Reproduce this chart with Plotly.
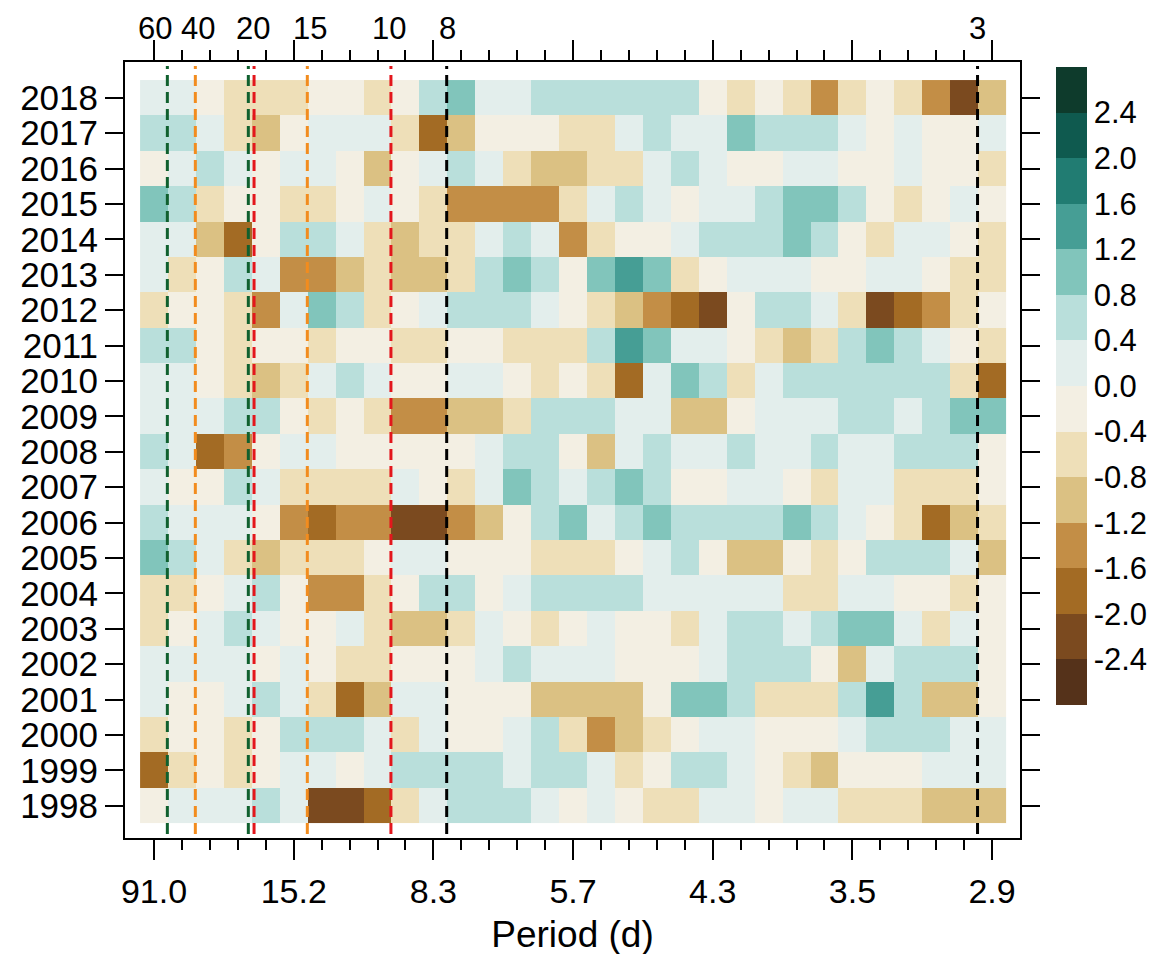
import plotly.graph_objects as go

# ---------------- data ----------------
years = list(range(1998, 2019))
cells = list(range(1, 32))                      # frequency bins (31 columns)
bottom_tick_cells = [1, 6, 11, 16, 21, 26, 31]
bottom_tick_labels = ["91.0", "15.2", "8.3", "5.7", "4.3", "3.5", "2.9"]
top_label_cells = [1.04, 2.58, 4.54, 6.58, 9.41, 11.52, 30.49]
top_labels = ["60", "40", "20", "15", "10", "8", "3"]

v1998 = [-0.2,0.2,0.2,0.2,0.6,0.2,-2.2,-2.2,-1.8,-0.6, 0.2,0.6,0.6,0.6,0.2,-0.2,0.2,-0.2,-0.6,-0.6, 0.2,0.2,-0.2,0.2,0.2,-0.6,-0.6,-0.6,-1.0,-1.0,-1.0]
v1999 = [-1.8,-0.6,-0.2,-0.6,-0.2,0.2,0.2,-0.2,0.2,0.6, 0.6,0.6,0.6,0.2,0.6,0.6,0.2,-0.6,-0.2,0.6, 0.6,0.2,-0.2,-0.6,-1.0,-0.2,-0.2,-0.2,0.2,0.2,0.2]
v2000 = [-0.6,-0.2,-0.2,-0.6,-0.2,0.6,0.6,0.6,0.2,-0.6, 0.2,-0.2,-0.2,0.2,0.6,-0.6,-1.4,-1.0,-0.6,-0.2, 0.2,0.2,-0.2,-0.2,-0.2,0.2,0.6,0.6,0.6,0.2,0.2]
v2001 = [0.2,-0.2,-0.2,0.2,0.6,0.2,-0.6,-1.8,-1.0,0.2, 0.2,-0.2,-0.2,-0.2,-1.0,-1.0,-1.0,-1.0,-0.2,1.0, 1.0,0.6,-0.6,-0.6,-0.6,0.6,1.4,0.6,-1.0,-1.0,-0.2]
v2002 = [0.2,0.2,0.2,0.2,-0.2,0.2,-0.2,-0.6,-0.6,-0.2, -0.2,-0.2,0.2,0.6,0.2,0.2,0.2,-0.2,-0.2,-0.2, 0.2,0.6,0.6,0.6,-0.2,-1.0,0.2,0.6,0.6,0.6,-0.2]
v2003 = [-0.6,-0.2,0.2,0.6,0.2,-0.2,-0.2,0.2,-0.6,-1.0, -1.0,-0.6,0.2,-0.2,-0.6,-0.2,0.2,-0.2,-0.2,-0.6, 0.2,0.6,0.6,0.2,0.6,1.0,1.0,0.2,-0.6,0.2,-0.2]
v2004 = [-0.6,-0.6,-0.2,0.2,0.6,-0.2,-1.4,-1.4,-0.6,-0.2, 0.6,0.6,-0.2,0.2,0.6,0.6,0.6,0.6,0.2,0.2, 0.2,0.2,0.2,-0.6,-0.6,0.2,0.2,-0.2,-0.2,-0.6,-0.2]
v2005 = [1.0,0.6,0.2,-0.6,-1.0,-0.6,-0.6,-0.6,-0.2,0.2, 0.2,-0.2,-0.2,-0.2,-0.6,-0.6,-0.6,-0.2,0.2,0.6, -0.2,-1.0,-1.0,-0.2,-0.6,-0.2,0.6,0.6,0.6,0.2,-1.0]
v2006 = [0.6,0.2,0.2,0.2,-0.2,-1.4,-1.8,-1.4,-1.4,-2.2, -2.2,-1.4,-1.0,-0.2,0.6,1.0,0.2,0.6,1.0,0.6, 0.6,0.6,0.6,1.0,0.6,0.2,-0.2,-0.6,-1.8,-1.0,-0.6]
v2007 = [0.2,-0.2,-0.2,0.6,0.2,-0.6,-0.6,-0.6,-0.6,0.2, -0.2,-0.6,0.2,1.0,0.6,0.2,0.6,1.0,0.6,-0.2, -0.2,0.2,0.2,-0.2,-0.6,0.2,0.2,-0.6,-0.6,-0.6,-0.2]
v2008 = [0.6,0.2,-1.8,-1.4,-0.2,0.2,0.2,-0.2,-0.2,-0.2, -0.2,-0.2,0.2,0.6,0.6,-0.2,-1.0,0.2,0.6,0.2, 0.2,0.6,0.2,0.2,0.6,0.2,0.2,0.6,0.6,0.6,-0.2]
v2009 = [0.2,0.2,0.2,0.6,0.6,-0.2,-0.6,-0.2,-0.6,-1.4, -1.4,-1.0,-1.0,-0.6,0.6,0.6,0.6,0.2,0.2,-1.0, -1.0,-0.2,0.2,0.2,0.2,0.6,0.6,0.2,0.6,1.0,1.0]
v2010 = [0.2,0.2,-0.2,-0.6,-1.0,-0.6,0.2,0.6,0.2,-0.2, -0.2,0.2,0.2,-0.2,-0.6,-0.2,-0.6,-1.8,0.2,1.0, 0.6,-0.6,0.2,0.6,0.6,0.6,0.6,0.6,0.6,-0.6,-1.8]
v2011 = [0.6,0.6,-0.2,-0.6,-0.2,-0.2,-0.6,-0.2,-0.2,-0.6, -0.6,-0.2,-0.2,-0.6,-0.6,-0.6,0.6,1.4,1.0,0.2, 0.2,-0.2,-0.6,-1.0,-0.6,0.6,1.0,0.6,0.2,-0.2,-0.6]
v2012 = [-0.6,-0.2,-0.2,-0.6,-1.4,0.2,1.0,0.6,-0.6,-0.2, 0.2,0.6,0.6,0.6,0.2,-0.2,-0.6,-1.0,-1.4,-1.8, -2.2,-0.2,0.6,0.6,0.2,-0.6,-2.2,-1.8,-1.4,-0.6,-0.2]
v2013 = [0.2,-0.6,-0.2,0.6,0.2,-1.4,-1.4,-1.0,-0.6,-1.0, -1.0,-0.6,0.6,1.0,0.6,-0.2,1.0,1.4,1.0,-0.6, -0.2,0.2,0.2,0.2,-0.2,-0.2,0.2,0.2,-0.2,-0.6,-0.6]
v2014 = [0.2,0.2,-1.0,-1.8,-0.2,0.6,0.6,0.2,-0.6,-1.0, -0.6,-0.6,0.2,0.6,0.2,-1.4,-0.6,-0.2,-0.2,0.2, 0.6,0.6,0.6,1.0,0.6,-0.2,-0.6,0.2,0.2,-0.2,-0.6]
v2015 = [1.0,0.6,-0.6,-0.2,-0.2,-0.6,-0.6,-0.2,0.2,-0.2, -0.6,-1.4,-1.4,-1.4,-1.4,-0.6,0.2,0.6,0.2,-0.2, 0.2,0.2,0.6,1.0,1.0,0.6,-0.2,-0.6,-0.2,0.2,-0.2]
v2016 = [-0.2,0.2,0.6,0.2,-0.2,0.2,0.2,-0.2,-1.0,-0.2, 0.2,0.6,0.2,-0.6,-1.0,-1.0,-0.6,-0.6,0.2,0.6, 0.2,-0.2,-0.2,0.2,0.2,-0.2,-0.2,0.2,-0.2,-0.2,-0.6]
v2017 = [0.6,0.6,0.2,-0.6,-1.0,-0.2,0.2,0.2,0.2,-0.6, -1.8,-1.0,-0.2,-0.2,-0.2,-0.6,-0.6,0.2,0.6,0.2, 0.2,1.0,0.6,0.6,0.6,0.2,-0.2,0.2,-0.2,-0.2,0.2]
v2018 = [0.2,0.2,-0.2,-0.6,-0.6,-0.6,-0.2,-0.2,-0.6,-0.2, 0.6,1.0,0.2,0.2,0.6,0.6,0.6,0.6,0.6,0.6, -0.2,-0.6,-0.2,-0.6,-1.4,-0.6,-0.2,-0.6,-1.4,-2.2,-1.0]

z_rows = [v1998, v1999, v2000, v2001, v2002, v2003, v2004, v2005, v2006, v2007,
          v2008, v2009, v2010, v2011, v2012, v2013, v2014, v2015, v2016, v2017, v2018]

# colour key: 14 classes from -2.8 to 2.8 in steps of 0.4
breaks = [-2.8, -2.4, -2.0, -1.6, -1.2, -0.8, -0.4, 0.0, 0.4, 0.8, 1.2, 1.6, 2.0, 2.4, 2.8]
key_labels = ["-2.4", "-2.0", "-1.6", "-1.2", "-0.8", "-0.4", "0.0", "0.4", "0.8", "1.2", "1.6", "2.0", "2.4"]
palette = ["#55321a", "#7b4a1f", "#a36b24", "#c38e46", "#dbc183", "#eedfb8", "#f3efe3",
           "#e3eeec", "#b9dfdb", "#81c5bb", "#469e95", "#217c72", "#0f5a4f", "#0e3b2c"]

# reference lines (position on the frequency-bin axis) and their colours
line_pos = [1.476, 2.478, 4.375, 4.58, 6.487, 9.48, 11.476, 30.48]
line_col = ["#10602e", "#f28c1e", "#10602e", "#e3161c", "#f28c1e", "#e3161c", "#000000", "#000000"]

# ---------------- figure ----------------
zmin, zmax = breaks[0], breaks[-1]
n = len(palette)
colorscale = []
for i, c in enumerate(palette):
    colorscale.append([i / n, c])
    colorscale.append([(i + 1) / n, c])

FONT = "Liberation Sans, Arial, Helvetica, sans-serif"
FS_TICK = 34
FS_YTICK = 35
FS_TITLE = 37
FS_KEY = 31

fig = go.Figure()
fig.add_trace(go.Heatmap(
    x=cells, y=years, z=z_rows, zmin=zmin, zmax=zmax, colorscale=colorscale,
    hoverongaps=False,
    colorbar=dict(
        tickvals=[float(t) for t in key_labels], ticktext=key_labels,
        ticks="", outlinewidth=0, thickness=31,
        lenmode="pixels", len=638, y=0.5825, yanchor="middle",
        x=1.0402, xanchor="left", xpad=0, ypad=0,
        tickfont=dict(family=FONT, size=FS_KEY, color="black"),
    ),
))

for xp, col in zip(line_pos, line_col):
    fig.add_shape(type="line", xref="x", yref="paper", x0=xp, x1=xp, y0=0.005, y1=0.995,
                  line=dict(color=col, width=3, dash="11px,6px"))

for xp, lab in zip(top_label_cells, top_labels):
    fig.add_annotation(x=xp, y=1.0438, xref="x", yref="paper", text=lab, showarrow=False,
                       xanchor="center", yanchor="middle",
                       font=dict(family=FONT, size=FS_KEY, color="black"))

fig.update_layout(
    width=1157, height=954,
    margin=dict(l=117, r=145, t=54, b=124),
    paper_bgcolor="white", plot_bgcolor="white",
    font=dict(family=FONT, size=FS_TICK, color="black"),
    xaxis=dict(
        range=[-0.04, 32.0], tickvals=bottom_tick_cells, ticktext=bottom_tick_labels,
        ticks="outside", ticklen=20, tickwidth=2, tickcolor="black",
        minor=dict(tickvals=cells, ticks="outside", ticklen=10, tickwidth=2, tickcolor="black"),
        showline=True, linewidth=2, linecolor="black", mirror="ticks",
        showgrid=False, zeroline=False, ticklabelstandoff=2,
        title=dict(text="Period (d)", standoff=12, font=dict(family=FONT, size=FS_TITLE)),
        tickfont=dict(family=FONT, size=FS_TICK),
    ),
    yaxis=dict(
        range=[1997.09, 2019.01], tickvals=years, ticktext=[str(y) for y in years],
        ticks="outside", ticklen=18, tickwidth=2, tickcolor="black",
        showline=True, linewidth=2, linecolor="black", mirror="ticks",
        showgrid=False, zeroline=False,
        tickfont=dict(family=FONT, size=FS_YTICK),
    ),
)

fig.write_html("out.html")
